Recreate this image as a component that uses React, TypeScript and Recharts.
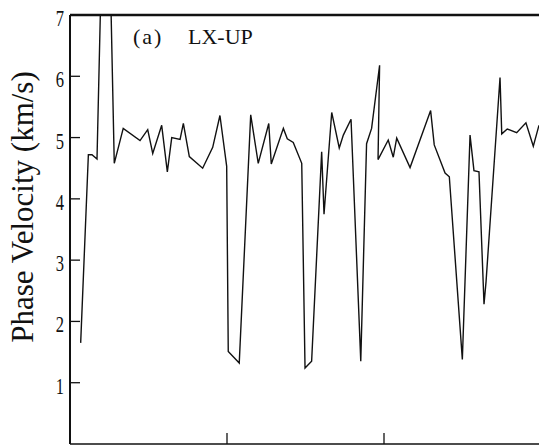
import React from 'react'
import { LineChart, Line, XAxis, YAxis, ReferenceLine } from 'recharts'

// distance along profile (tick spacing = 10) and measured phase velocity (km/s)
const distance = [
  0.68, 1.17, 1.4, 1.72, 2.29, 2.82, 3.39, 4.46, 4.95, 5.27,
  5.84, 6.2, 6.48, 7.01, 7.22, 7.6, 8.45, 9.09, 9.55, 9.98,
  10.08, 10.78, 11.51, 11.99, 12.66, 12.82, 13.59, 13.84, 14.22, 14.76,
  14.97, 15.39, 16.03, 16.18, 16.67, 17.15, 17.41, 17.9, 18.52, 18.89,
  19.21, 19.72, 19.62, 20.27, 20.59, 20.81, 21.66, 22.97, 23.2, 23.89,
  24.16, 24.99, 25.48, 25.73, 26.05, 26.37, 26.5, 27.39, 27.5, 27.85,
  28.45, 29.04, 29.51, 29.87,
]
const velocity = [
  1.65, 4.72, 4.72, 4.65, 11.0, 4.58, 5.15, 4.95, 5.13, 4.74,
  5.2, 4.44, 5.0, 4.97, 5.23, 4.69, 4.5, 4.84, 5.36, 4.53,
  1.51, 1.32, 5.37, 4.58, 5.23, 4.57, 5.15, 4.98, 4.92, 4.58,
  1.24, 1.35, 4.77, 3.75, 5.41, 4.83, 5.04, 5.3, 1.35, 4.9,
  5.15, 6.18, 4.64, 4.96, 4.68, 4.99, 4.51, 5.44, 4.88, 4.42,
  4.36, 1.38, 5.04, 4.46, 4.44, 2.28, 2.65, 5.98, 5.06, 5.14,
  5.08, 5.24, 4.86, 5.2,
]
const yTicks = [1, 2, 3, 4, 5, 6, 7]
const xTicks = [0, 10, 20]

const data = distance.map((d, i) => ({ d, v: velocity[i] }))

const INK = '#111'
const SERIF = '"Liberation Serif", "DejaVu Serif", serif'

function YTick({ x, y, payload }: any) {
  return (
    <g>
      <line x1={x} x2={x + 10} y1={y} y2={y} stroke={INK} strokeWidth={1.3} />
      <g transform={`translate(${x - 6},${y + 11}) scale(0.72,1)`}>
        <text x={0} y={0} textAnchor="end" fontFamily={SERIF} fontSize={23} fill={INK}>
          {payload.value}
        </text>
      </g>
    </g>
  )
}

function XTick({ x, y }: any) {
  return <line x1={x} x2={x} y1={y} y2={y - 11} stroke={INK} strokeWidth={1.3} />
}

function YLabel() {
  return (
    <text
      transform="translate(33,207) rotate(-90)"
      textAnchor="middle"
      fontFamily={SERIF}
      fontSize={31}
      fill={INK}
    >
      Phase Velocity (km/s)
    </text>
  )
}

export default function App() {
  return (
    <div style={{ position: 'absolute', left: 0, top: 0, width: 539, height: 446, overflow: 'hidden', background: '#fff' }}>
      <LineChart width={541} height={446} data={data} margin={{ top: 15, right: 0, bottom: 1, left: 0 }}>
        <XAxis
          dataKey="d"
          type="number"
          domain={[0, 30]}
          ticks={xTicks}
          height={1}
          tickSize={0}
          tickMargin={0}
          tick={<XTick />}
          axisLine={{ stroke: INK, strokeWidth: 1.6 }}
        />
        <YAxis
          type="number"
          domain={[0, 7]}
          allowDataOverflow
          ticks={yTicks}
          width={70}
          tickSize={0}
          tickMargin={0}
          tick={<YTick />}
          axisLine={{ stroke: INK, strokeWidth: 2 }}
          label={<YLabel />}
        />
        <ReferenceLine y={7} stroke={INK} strokeWidth={2.5} />
        <Line
          dataKey="v"
          type="linear"
          stroke={INK}
          strokeWidth={1.4}
          dot={false}
          isAnimationActive={false}
        />
      </LineChart>
      <div style={{ position: 'absolute', left: 133, top: 26, fontFamily: SERIF, fontSize: 22, lineHeight: '22px', color: INK, whiteSpace: 'pre' }}>
        <span style={{ letterSpacing: 2 }}>(a)</span>
        <span style={{ position: 'absolute', left: 55 }}>LX-UP</span>
      </div>
    </div>
  )
}
